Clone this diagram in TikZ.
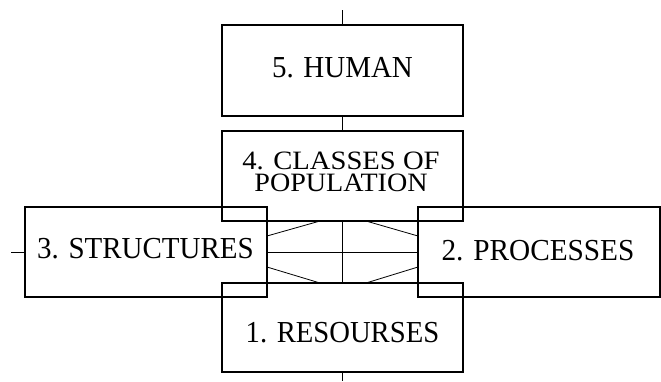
\documentclass[tikz,border=0pt]{standalone}
\usepackage{graphicx}
\usepackage{fontspec}
\setmainfont{Liberation Serif}
\begin{document}
\begin{tikzpicture}[x=1pt,y=-1pt,
  box/.style={draw=black,line width=1.4pt,minimum width=241pt,minimum height=#1,inner sep=0pt,outer sep=0pt},
  lbl/.style={inner sep=0pt,anchor=base,font=\fontsize{30.5}{30.5}\selectfont},
  lbltwo/.style={inner sep=0pt,anchor=north,align=center,font=\fontsize{26.5}{21.5}\selectfont},
  thinline/.style={draw=black,line width=0.8pt}]
\useasboundingbox (0,0) rectangle (661,381);
% boxes
\node[box=91pt] (b5) at (342.5,70.5) {};
\node[box=90pt] (b4) at (342.5,176) {};
\node[box=90pt, minimum width=242pt] (b3) at (146,252) {};
\node[box=90pt, minimum width=242pt] (b2) at (539,252) {};
\node[box=89pt] (b1) at (342.5,327.5) {};
% labels
\node[lbl] (t5) at (342.5,77) {\scalebox{0.95}[1]{5. HUMAN}};
\node[lbltwo] (t4) at (341,152) {\scalebox{1.08}[1]{4. CLASSES OF}\\\scalebox{1.06}[1]{POPULATION}};
\node[lbl] (t3) at (145.5,258) {\scalebox{0.95}[1]{3. STRUCTURES}};
\node[lbl] (t2) at (538,260) {\scalebox{0.96}[1]{2. PROCESSES}};
\node[lbl] (t1) at (342.5,342) {\scalebox{0.94}[1]{1. RESOURSES}};
% free ends
\coordinate (top) at (342.5,10);
\coordinate (lft) at (11,252);
\coordinate (bot) at (342.5,381);
% connectors
\draw[thinline] (top) -- (b5.north);
\draw[thinline] (b5.south) -- (b4.north);
\draw[thinline] (lft) -- (b3.west);
\draw[thinline] (b1.south) -- (bot);
% central crossing
\draw[thinline] (b3.east) -- (b2.west);
\draw[thinline] (b4.south) -- (b1.north);
\coordinate (d1a) at (267,236);
\coordinate (d1b) at (320,221);
\coordinate (d2a) at (366,221);
\coordinate (d2b) at (418,236);
\coordinate (d3a) at (267,267);
\coordinate (d3b) at (320,283);
\coordinate (d4a) at (366,283);
\coordinate (d4b) at (418,267);
\draw[thinline] (d1a) -- (d1b);
\draw[thinline] (d2a) -- (d2b);
\draw[thinline] (d3a) -- (d3b);
\draw[thinline] (d4a) -- (d4b);
\end{tikzpicture}
\end{document}
